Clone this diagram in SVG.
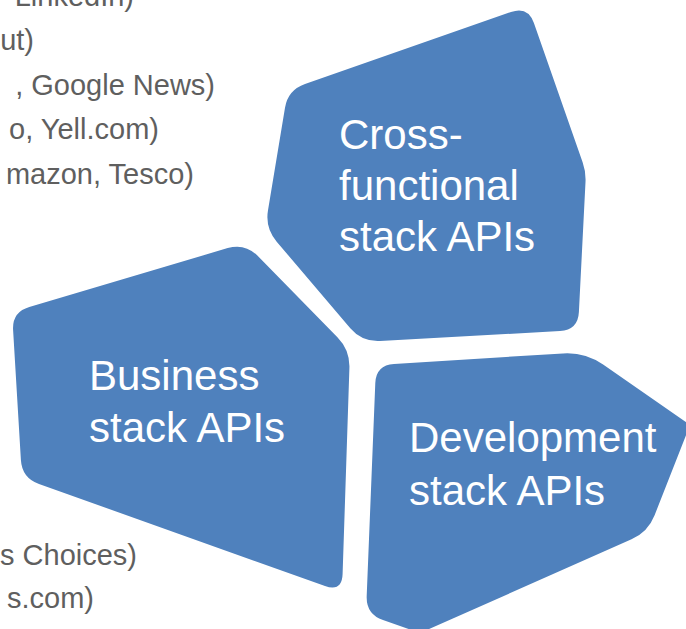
<svg xmlns="http://www.w3.org/2000/svg" width="686" height="629" viewBox="0 0 686 629">
<style>
.side{font-family:"Liberation Sans",Arial,sans-serif;font-size:29px;fill:#5F5F5F;text-anchor:end}
.shape{fill:#4F81BD}
.lbl{font-family:"Liberation Sans",Arial,sans-serif;font-size:42px;fill:#FFFFFF}
</style>
<rect width="686" height="629" fill="#FFFFFF"/>
<g id="side-text-top">
<text class="side" x="134" y="6">LinkedIn)</text>
<text class="side" x="34" y="50">ut)</text>
<text class="side" x="215" y="95">, Google News)</text>
<text class="side" x="159" y="139">o, Yell.com)</text>
<text class="side" x="194" y="184">mazon, Tesco)</text>
</g>
<g id="side-text-bottom">
<text class="side" x="137" y="565">s Choices)</text>
<text class="side" x="94" y="608">s.com)</text>
</g>
<g id="cross-functional">
<path class="shape" d="M305,84.1 L511,11.9 Q528,6 533.9,23 L582.7,162.6 Q586,172 585.5,182 L578.9,312 Q578,330 560,331 L380,341 Q362,342 350.3,328.3 L276.7,241.7 Q265,228 268,210.2 L285,107.8 Q288,90 305,84.1 Z"/>
<text class="lbl" x="339" y="149">Cross-</text>
<text class="lbl" x="339" y="200">functional</text>
<text class="lbl" x="339" y="251">stack APIs</text>
</g>
<g id="business">
<path class="shape" d="M29.3,306.9 L227.7,248.1 Q245,243 257.6,255.8 L337.4,337.2 Q350,350 349.4,368 L342.6,574 Q342,592 325,586 L39,484 Q22,478 20.9,460 L13.1,330 Q12,312 29.3,306.9 Z"/>
<text class="lbl" x="89" y="390">Business</text>
<text class="lbl" x="89" y="442">stack APIs</text>
</g>
<g id="development">
<path class="shape" d="M394,363.9 L563,353.4 Q585,352 603.1,364.6 L685.1,421.6 Q690,425 687.8,430.6 L654.6,515.2 Q648,532 631.5,539.3 L425.5,630.6 Q420,633 414.3,631 L383,620 Q366,614 366.7,596 L375.3,383 Q376,365 394,363.9 Z"/>
<text class="lbl" x="409" y="452">Development</text>
<text class="lbl" x="409" y="505">stack APIs</text>
</g>
<g id="connectors"/>
</svg>
